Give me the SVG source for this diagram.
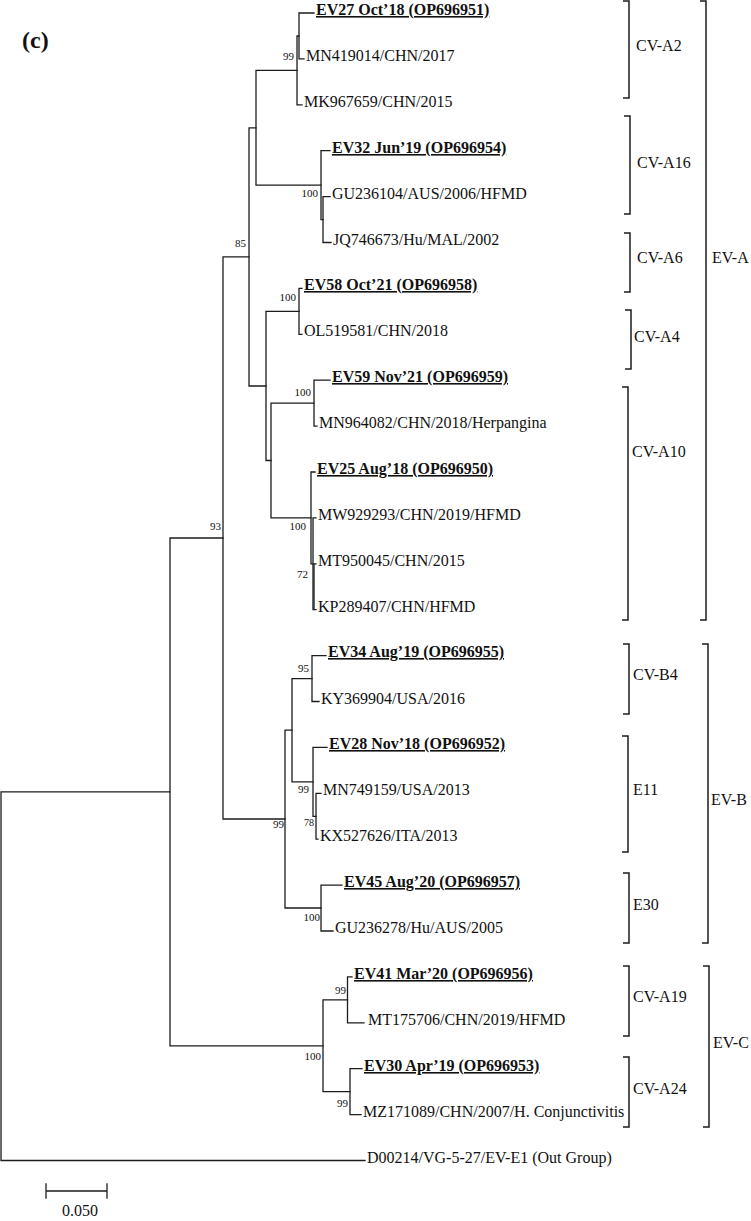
<svg xmlns="http://www.w3.org/2000/svg" width="751" height="1221" viewBox="0 0 751 1221">
<style>
.br{stroke:#1c1c1c;stroke-width:1.3;fill:none;stroke-linecap:square}
.bk{stroke:#1c1c1c;stroke-width:1.5;fill:none}
text{font-family:"Liberation Serif","Times New Roman",serif;fill:#111}
.lab{font-size:16px}
.sel{font-size:16px;font-weight:bold;text-decoration:underline}
.bs{font-size:11px;text-anchor:end}
.grp{font-size:16px}
</style>
<rect width="751" height="1221" fill="#fff"/>
<text x="22" y="48" style="font-size:24px;font-weight:bold">(c)</text>
<g id="branches" class="br">
<path d="M1,791.9V1160.5M1,791.9H170M1,1160.5H365"/>
<path d="M170,538V1045.8M170,538H223M170,1045.8H323"/>
<path d="M223,256.9V819M223,256.9H249M223,819H285"/>
<path d="M249,127.8V386M249,127.8H256M249,386H266"/>
<path d="M256,70.4V185.1M256,70.4H297M256,185.1H321"/>
<path d="M297,36V104.8M297,36H299M297,104.8H302"/>
<path d="M299,13V58.9M299,13H314M299,58.9H304"/>
<path d="M321,150.7V219.6M321,150.7H330M321,219.6H323"/>
<path d="M323,196.6V242.5M323,196.6H330M323,242.5H331"/>
<path d="M266,311.4V460.5M266,311.4H299M266,460.5H271"/>
<path d="M299,288.4V334.3M299,288.4H302M299,334.3H302"/>
<path d="M271,403.1V517.9M271,403.1H314M271,517.9H311"/>
<path d="M314,380.2V426.1M314,380.2H330M314,426.1H317"/>
<path d="M311,472V563.8M311,472H315M311,563.8H313"/>
<path d="M313,517.9V609.7M313,517.9H316"/>
<path d="M314,563.8V609.7M314,563.8H316M314,609.7H316"/>
<path d="M285,730.2V908M285,730.2H292M285,908H321"/>
<path d="M292,678.6V781.8M292,678.6H312M292,781.8H313"/>
<path d="M312,655.6V701.5M312,655.6H326M312,701.5H319"/>
<path d="M313,747.4V816.3M313,747.4H327M313,816.3H316"/>
<path d="M316,793.3V839.2M316,793.3H321M316,839.2H318"/>
<path d="M321,885.1V931M321,885.1H342M321,931H333"/>
<path d="M323,999.9V1091.7M323,999.9H347.5M323,1091.7H350"/>
<path d="M347.5,976.9V1022.8M347.5,976.9H352M347.5,1022.8H364"/>
<path d="M350,1068.7V1114.6M350,1068.7H362M350,1114.6H361"/>
</g>
<g id="bootstrap">
<text class="bs" x="294" y="60">99</text>
<text class="bs" x="318" y="197">100</text>
<text class="bs" x="246" y="247">85</text>
<text class="bs" x="296" y="301">100</text>
<text class="bs" x="311" y="396">100</text>
<text class="bs" x="306" y="530">100</text>
<text class="bs" x="308" y="578">72</text>
<text class="bs" x="221" y="530">93</text>
<text class="bs" x="309" y="672">95</text>
<text class="bs" x="309" y="793">99</text>
<text class="bs" x="314" y="826" style="font-size:10px">78</text>
<text class="bs" x="284" y="828">99</text>
<text class="bs" x="320" y="921">100</text>
<text class="bs" x="346" y="994">99</text>
<text class="bs" x="321" y="1060">100</text>
<text class="bs" x="348" y="1107">99</text>
</g>
<g id="tip-EV27"><text class="sel" x="316" y="15">EV27 Oct’18 (OP696951)</text></g>
<g id="tip-MN419014"><text class="lab" x="306" y="61">MN419014/CHN/2017</text></g>
<g id="tip-MK967659"><text class="lab" x="304" y="107">MK967659/CHN/2015</text></g>
<g id="tip-EV32"><text class="sel" x="332" y="153">EV32 Jun’19 (OP696954)</text></g>
<g id="tip-GU236104"><text class="lab" x="332" y="199">GU236104/AUS/2006/HFMD</text></g>
<g id="tip-JQ746673"><text class="lab" x="333" y="245">JQ746673/Hu/MAL/2002</text></g>
<g id="tip-EV58"><text class="sel" x="304" y="290">EV58 Oct’21 (OP696958)</text></g>
<g id="tip-OL519581"><text class="lab" x="304" y="336">OL519581/CHN/2018</text></g>
<g id="tip-EV59"><text class="sel" x="332" y="382">EV59 Nov’21 (OP696959)</text></g>
<g id="tip-MN964082"><text class="lab" x="319" y="428">MN964082/CHN/2018/Herpangina</text></g>
<g id="tip-EV25"><text class="sel" x="317" y="474">EV25 Aug’18 (OP696950)</text></g>
<g id="tip-MW929293"><text class="lab" x="318" y="520">MW929293/CHN/2019/HFMD</text></g>
<g id="tip-MT950045"><text class="lab" x="318" y="566">MT950045/CHN/2015</text></g>
<g id="tip-KP289407"><text class="lab" x="318" y="612">KP289407/CHN/HFMD</text></g>
<g id="tip-EV34"><text class="sel" x="328" y="657">EV34 Aug’19 (OP696955)</text></g>
<g id="tip-KY369904"><text class="lab" x="321" y="704">KY369904/USA/2016</text></g>
<g id="tip-EV28"><text class="sel" x="329" y="749">EV28 Nov’18 (OP696952)</text></g>
<g id="tip-MN749159"><text class="lab" x="323" y="795">MN749159/USA/2013</text></g>
<g id="tip-KX527626"><text class="lab" x="320" y="841">KX527626/ITA/2013</text></g>
<g id="tip-EV45"><text class="sel" x="344" y="887">EV45 Aug’20 (OP696957)</text></g>
<g id="tip-GU236278"><text class="lab" x="335" y="933">GU236278/Hu/AUS/2005</text></g>
<g id="tip-EV41"><text class="sel" x="354" y="979">EV41 Mar’20 (OP696956)</text></g>
<g id="tip-MT175706"><text class="lab" x="368" y="1025">MT175706/CHN/2019/HFMD</text></g>
<g id="tip-EV30"><text class="sel" x="364" y="1071">EV30 Apr’19 (OP696953)</text></g>
<g id="tip-MZ171089"><text class="lab" x="363" y="1117">MZ171089/CHN/2007/H. Conjunctivitis</text></g>
<g id="tip-D00214"><text class="lab" x="367" y="1163">D00214/VG-5-27/EV-E1 (Out Group)</text></g>
<g id="clade-CV-A2"><path class="bk" d="M623,1H629V98H623"/><text class="grp" x="636" y="51">CV-A2</text></g>
<g id="clade-CV-A16"><path class="bk" d="M624,116H630V214H624"/><text class="grp" x="637" y="168">CV-A16</text></g>
<g id="clade-CV-A6"><path class="bk" d="M624,233H630V292H624"/><text class="grp" x="637" y="263">CV-A6</text></g>
<g id="clade-CV-A4"><path class="bk" d="M625,310H631V369H625"/><text class="grp" x="634" y="342">CV-A4</text></g>
<g id="clade-CV-A10"><path class="bk" d="M622,387H628V620H622"/><text class="grp" x="632" y="457">CV-A10</text></g>
<g id="clade-EV-A"><path class="bk" d="M700,1H706V620H700"/><text class="grp" x="712" y="263">EV-A</text></g>
<g id="clade-CV-B4"><path class="bk" d="M623,644H629V714H623"/><text class="grp" x="633" y="680">CV-B4</text></g>
<g id="clade-E11"><path class="bk" d="M622,736H628V852H622"/><text class="grp" x="633" y="795">E11</text></g>
<g id="clade-E30"><path class="bk" d="M623,873H629V943H623"/><text class="grp" x="633" y="910">E30</text></g>
<g id="clade-EV-B"><path class="bk" d="M702,644H708V943H702"/><text class="grp" x="711" y="805">EV-B</text></g>
<g id="clade-CV-A19"><path class="bk" d="M623,966H629V1036H623"/><text class="grp" x="633" y="1002">CV-A19</text></g>
<g id="clade-CV-A24"><path class="bk" d="M623,1057H629V1127H623"/><text class="grp" x="633" y="1094">CV-A24</text></g>
<g id="clade-EV-C"><path class="bk" d="M703,966H709V1127H703"/><text class="grp" x="713" y="1048">EV-C</text></g>
<g id="scale-bar"><path class="br" d="M46,1191H107M46,1184V1198M107,1184V1198"/><text class="lab" x="80" y="1216" text-anchor="middle">0.050</text></g>
</svg>
